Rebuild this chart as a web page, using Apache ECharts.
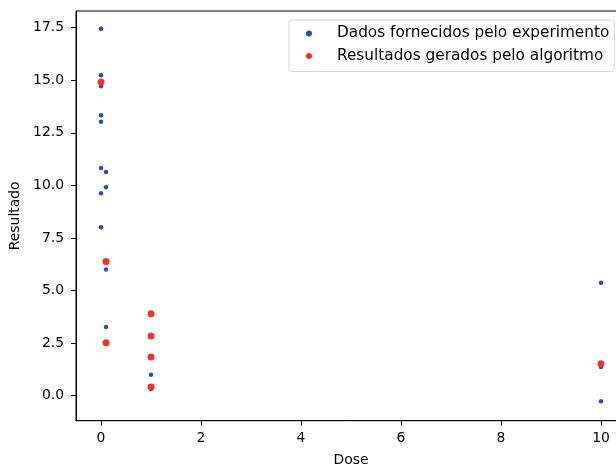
<!DOCTYPE html>
<html>
<head>
<meta charset="utf-8">
<script src="https://cdn.jsdelivr.net/npm/echarts@6/dist/echarts.min.js"></script>
<style>
html,body{margin:0;padding:0;background:#fff;}
#c{width:616px;height:465px;}
</style>
</head>
<body>
<div id="c"></div>
<script>
const expDose  = [0, 0, 0, 0, 0, 0, 0, 0, 0.1, 0.1, 0.1, 0.1, 1, 1, 10, 10, 10];
const expValue = [17.45, 15.23, 14.71, 13.33, 13.02, 10.82, 9.63, 8.01, 10.64, 9.91, 6.0, 3.26, 1.0, 0.32, 5.37, 1.36, -0.27];
const algDose  = [0, 0.1, 0.1, 1, 1, 1, 1, 10];
const algValue = [14.92, 6.38, 2.52, 3.90, 2.84, 1.84, 0.41, 1.52];
const xTicks = [0, 2, 4, 6, 8, 10];
const yTicks = [0, 2.5, 5, 7.5, 10, 12.5, 15, 17.5];
const seriesNames = ['Dados fornecidos pelo experimento', 'Resultados gerados pelo algoritmo'];
const axisNames = ['Dose', 'Resultado'];

const FONT = 'DejaVu Sans';
const chart = echarts.init(document.getElementById('c'), null, {renderer: 'canvas'});
chart.setOption({
  animation: false,
  backgroundColor: '#fff',
  textStyle: {fontFamily: FONT},
  grid: {left: 76, top: 11, width: 550, height: 409.7, outerBoundsMode: 'none', containLabel: false,
         show: true, borderColor: '#000', borderWidth: 1, backgroundColor: 'transparent'},
  legend: {
    left: 289, top: 20,
    orient: 'vertical',
    padding: [5, 5, 7, 17],
    itemGap: 5.5,
    itemWidth: 6, itemHeight: 6,
    icon: 'circle',
    backgroundColor: '#fff',
    borderColor: '#d4d4d4',
    borderWidth: 1,
    borderRadius: 3,
    textStyle: {fontFamily: FONT, fontSize: 15.3, lineHeight: 17, color: '#000', padding: [0, 0, 0, 20]},
    data: [
      {name: seriesNames[0], itemStyle: {color: '#2352b0'}},
      {name: seriesNames[1], itemStyle: {color: '#f03232'}}
    ]
  },
  xAxis: {
    type: 'value', min: -0.5, max: 10.5,
    name: axisNames[0], nameLocation: 'middle', nameGap: 33,
    nameTextStyle: {fontFamily: FONT, fontSize: 13.9, color: '#000'},
    axisLine: {show: true, onZero: false, lineStyle: {color: '#000', width: 1}},
    axisTick: {show: true, length: 5, inside: false, customValues: xTicks, lineStyle: {color: '#000'}},
    axisLabel: {customValues: xTicks, margin: 11, fontFamily: FONT, fontSize: 13.9, color: '#000', formatter: v => String(v)},
    splitLine: {show: false}
  },
  yAxis: {
    type: 'value', min: -1.19, max: 18.29,
    name: axisNames[1], nameLocation: 'middle', nameGap: 52,
    nameTextStyle: {fontFamily: FONT, fontSize: 13.9, color: '#000'},
    axisLine: {show: true, onZero: false, lineStyle: {color: '#000', width: 1}},
    axisTick: {show: true, length: 5, inside: false, customValues: yTicks, lineStyle: {color: '#000'}},
    axisLabel: {customValues: yTicks, margin: 12, fontFamily: FONT, fontSize: 13.9, color: '#000', formatter: v => v.toFixed(1)},
    splitLine: {show: false}
  },
  series: [
    {
      name: seriesNames[0], type: 'scatter', symbol: 'circle', symbolSize: 4.5,
      itemStyle: {color: '#2352b0', opacity: 1},
      data: expDose.map((d, i) => [d, expValue[i]]),
      z: 2
    },
    {
      name: seriesNames[1], type: 'scatter', symbol: 'circle', symbolSize: 7,
      itemStyle: {color: '#f03232', opacity: 1},
      data: algDose.map((d, i) => [d, algValue[i]]),
      z: 3
    }
  ]
});
</script>
</body>
</html>
